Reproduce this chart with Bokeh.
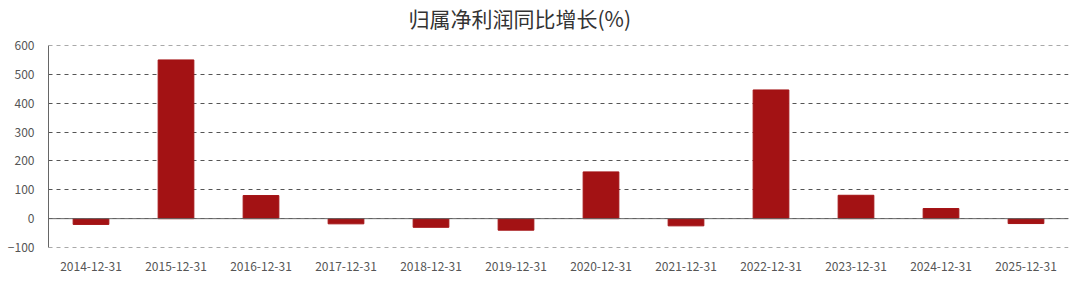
from bokeh.plotting import figure
from bokeh.models import Span, FixedTicker, Range1d, FactorRange, Title
from bokeh.embed import file_html
from bokeh.resources import INLINE

categories = ["2014-12-31", "2015-12-31", "2016-12-31", "2017-12-31", "2018-12-31", "2019-12-31",
              "2020-12-31", "2021-12-31", "2022-12-31", "2023-12-31", "2024-12-31", "2025-12-31"]
growth = [-20, 550, 80, -18, -30, -40, 162, -25, 446, 81, 35, -17]
y_ticks = [-100, 0, 100, 200, 300, 400, 500, 600]
title_text = "归属净利润同比增长(%)"

p = figure(width=1080, height=296, x_range=FactorRange(*categories, range_padding=0),
           y_range=Range1d(-100, 600), output_backend="svg", toolbar_location=None,
           min_border_left=48, min_border_right=12, min_border_top=0, min_border_bottom=49,
           title=None)
p.outline_line_color = None
p.background_fill_color = "white"
p.border_fill_color = "white"

# spacer panel between the frame and the title
p.add_layout(Title(text=" ", text_font_size="1px", standoff=10), "above")
p.add_layout(Title(text=title_text, align="left", offset=360, text_font="Noto Sans CJK SC",
                   text_font_size="21px", text_font_style="normal", text_color="#333333",
                   standoff=0), "above")

p.vbar(x=categories, top=growth, bottom=0, width=0.42, fill_color="#A31214", line_color="#A31214")

p.yaxis.ticker = FixedTicker(ticks=y_ticks)
p.yaxis.axis_line_color = "#666666"
p.yaxis.major_tick_line_color = None
p.yaxis.minor_tick_line_color = None
p.yaxis.major_label_text_color = "#555555"
p.yaxis.major_label_text_font = "Noto Sans CJK SC"
p.yaxis.major_label_text_font_size = "12px"
p.yaxis.major_label_standoff = 8

p.xaxis.axis_line_color = None
p.xaxis.major_tick_line_color = None
p.xaxis.minor_tick_line_color = None
p.xaxis.major_label_text_color = "#555555"
p.xaxis.major_label_text_font = "Noto Sans CJK SC"
p.xaxis.major_label_text_font_size = "12px"
p.xaxis.major_label_standoff = 8

p.xgrid.grid_line_color = None
p.ygrid.grid_line_color = "#555555"
p.ygrid.grid_line_dash = "4 4"
p.ygrid.grid_line_width = 1

for edge in (y_ticks[0], y_ticks[-1]):
    p.add_layout(Span(location=edge, dimension="width", line_color="#555555",
                      line_dash="4 4", line_width=1))
p.add_layout(Span(location=0, dimension="width", line_color="#666666", line_width=1))

open("out.html", "w").write(file_html(p, INLINE))
